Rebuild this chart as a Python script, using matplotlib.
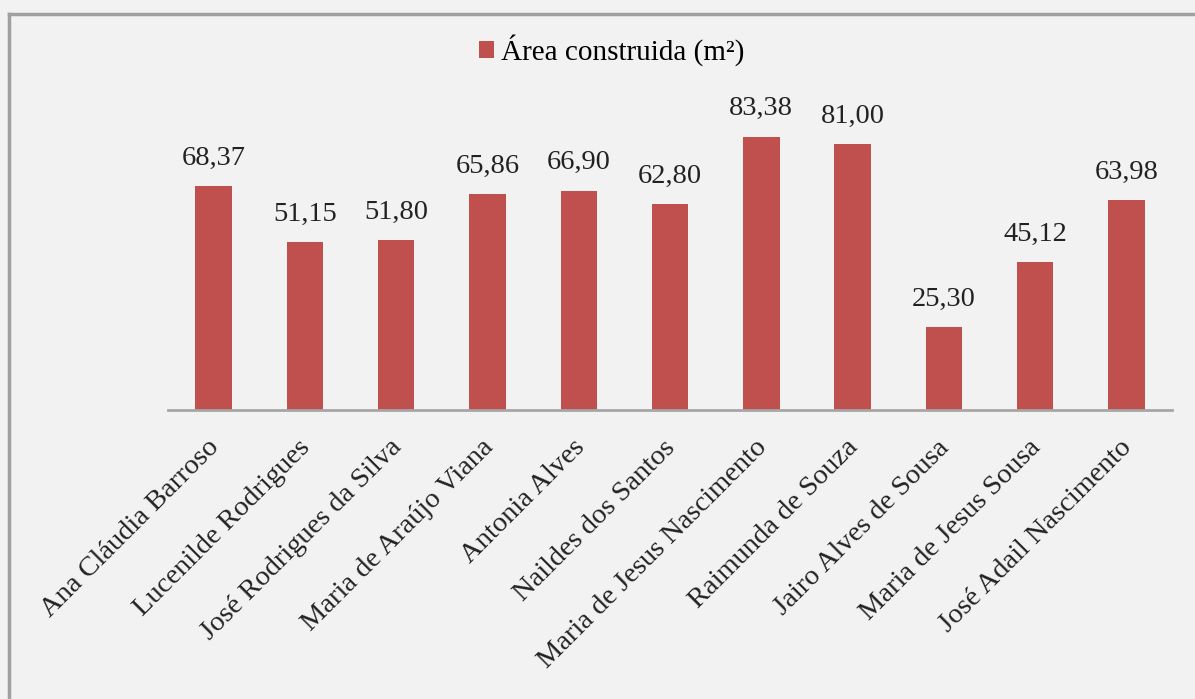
import matplotlib.pyplot as plt
import matplotlib.transforms as mtransforms
from matplotlib.lines import Line2D
import numpy as np

plt.rcParams['font.family'] = ['Liberation Serif', 'DejaVu Serif']

nomes = ['Ana Cláudia Barroso', 'Lucenilde Rodrigues', 'José Rodrigues da Silva',
         'Maria de Araújo Viana', 'Antonia Alves', 'Naildes dos Santos',
         'Maria de Jesus Nascimento', 'Raimunda de Souza', 'Jairo Alves de Sousa',
         'Maria de Jesus Sousa', 'José Adail Nascimento']
area = [68.37, 51.15, 51.80, 65.86, 66.90, 62.80, 83.38, 81.00, 25.30, 45.12, 63.98]
rotulo = 'Área construida (m²)'

bg = '#f2f2f2'
cor = '#c0504d'

fig = plt.figure(figsize=(11.95, 6.99), dpi=100, facecolor=bg)
ax = fig.add_axes([0.1406, 0.4134, 0.8402, 0.4693], facecolor=bg)

x = np.arange(len(nomes))
barras = ax.bar(x, area, width=0.4, color=cor, label=rotulo, zorder=2)

for xi, v in zip(x, area):
    ax.annotate(f'{v:.2f}'.replace('.', ','), (xi, v), xytext=(0, 11),
                textcoords='offset points', ha='center', va='bottom',
                fontsize=20.5, color='#222222')

ax.set_xlim(-0.5, len(nomes) - 0.5)
ax.set_ylim(0, 100)
ax.set_yticks([])
ax.set_xticks(x)
ax.set_xticklabels(nomes, rotation=45, ha='right', rotation_mode='anchor',
                   fontsize=20.5, color='#222222')
ax.tick_params(axis='x', length=0, pad=18)
desloc = mtransforms.ScaledTranslation(-5 / 72, 0, fig.dpi_scale_trans)
for lbl in ax.get_xticklabels():
    lbl.set_transform(lbl.get_transform() + desloc)
for s in ['top', 'right', 'left']:
    ax.spines[s].set_visible(False)
ax.spines['bottom'].set_color('#a6a6a6')
ax.spines['bottom'].set_linewidth(2)

leg = fig.legend(handles=[barras], labels=[rotulo], loc='center',
                 bbox_to_anchor=(0.512, 0.928), frameon=False, fontsize=21,
                 handlelength=0.5, handleheight=0.5, handletextpad=0.25)

# moldura do gráfico (superior e esquerda)
fig.add_artist(Line2D([0.0075, 1.0], [0.98, 0.98], color='#a0a0a0', lw=2.5))
fig.add_artist(Line2D([0.0075, 0.0075], [0.0, 0.98], color='#a0a0a0', lw=2.5))

fig.savefig('out.png', dpi=100, facecolor=bg)
